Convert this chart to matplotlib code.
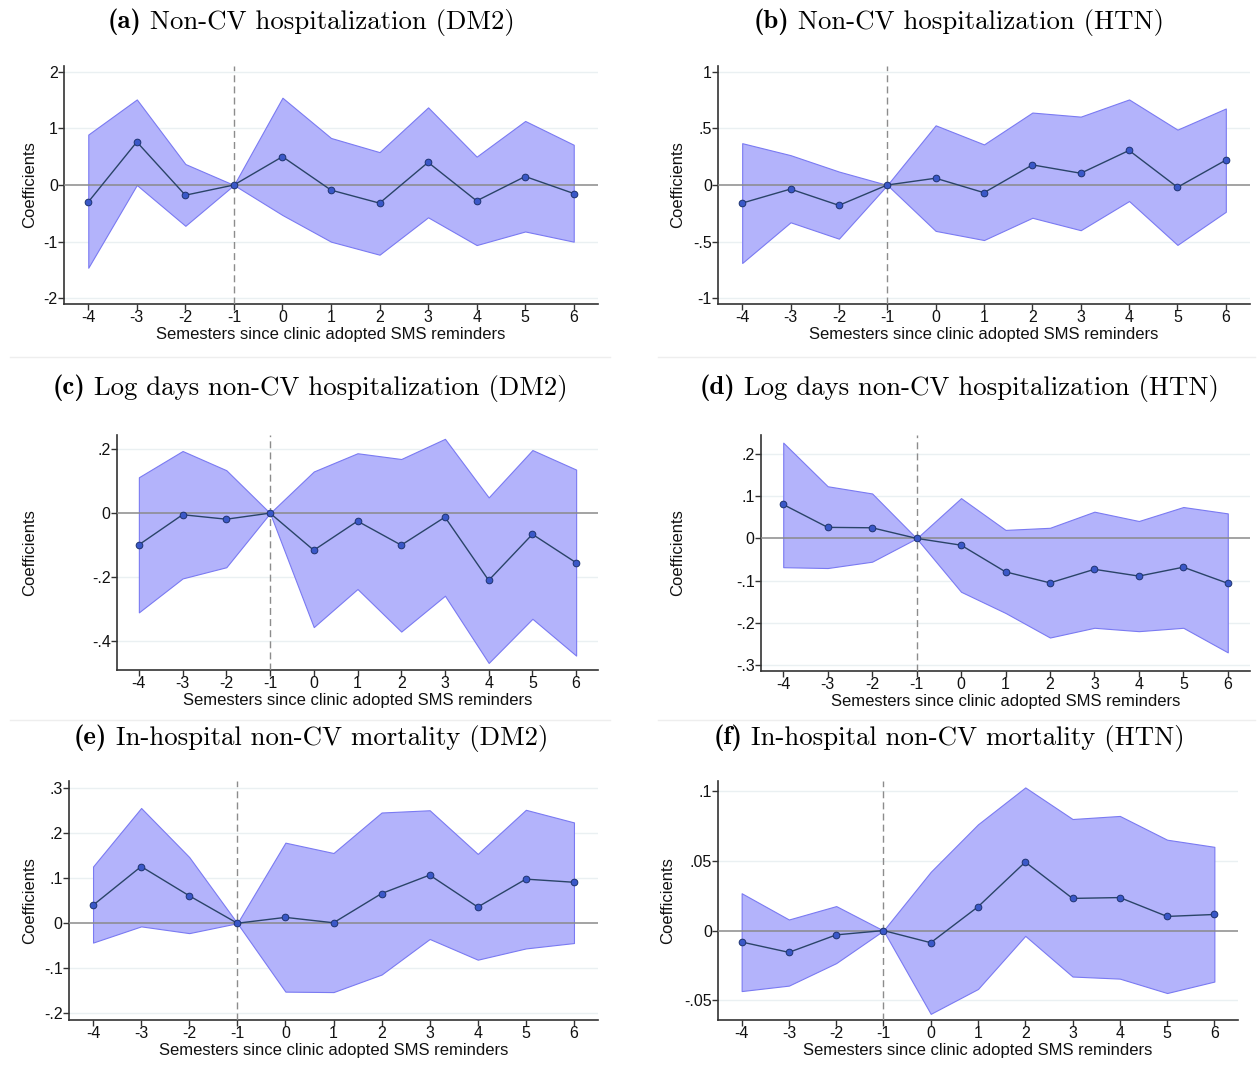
import numpy as np
import matplotlib
matplotlib.use('Agg')
import matplotlib.pyplot as plt
from matplotlib.lines import Line2D

plt.rcParams['font.family'] = ['Liberation Sans', 'DejaVu Sans']

# semesters relative to adoption
sem = [-4, -3, -2, -1, 0, 1, 2, 3, 4, 5, 6]

# (a) Non-CV hospitalization (DM2)
coef_a = [-0.30, 0.76, -0.18, 0, 0.50, -0.09, -0.32, 0.40, -0.28, 0.15, -0.15]
lo_a = [-1.46, 0.00, -0.72, 0, -0.53, -1.00, -1.23, -0.57, -1.06, -0.82, -1.00]
hi_a = [0.89, 1.51, 0.37, 0, 1.54, 0.83, 0.58, 1.37, 0.50, 1.13, 0.71]

# (b) Non-CV hospitalization (HTN)
coef_b = [-0.16, -0.036, -0.18, 0, 0.06, -0.068, 0.178, 0.104, 0.306, -0.02, 0.22]
lo_b = [-0.69, -0.33, -0.475, 0, -0.406, -0.487, -0.29, -0.40, -0.142, -0.53, -0.237]
hi_b = [0.37, 0.264, 0.119, 0, 0.528, 0.359, 0.641, 0.605, 0.757, 0.49, 0.677]

# (c) Log days non-CV hospitalization (DM2)
coef_c = [-0.099, -0.005, -0.019, 0, -0.116, -0.025, -0.10, -0.0125, -0.21, -0.066, -0.155]
lo_c = [-0.31, -0.204, -0.169, 0, -0.356, -0.237, -0.37, -0.258, -0.468, -0.33, -0.445]
hi_c = [0.112, 0.194, 0.134, 0, 0.13, 0.187, 0.169, 0.232, 0.049, 0.197, 0.136]

# (d) Log days non-CV hospitalization (HTN)
coef_d = [0.08, 0.026, 0.025, 0, -0.016, -0.079, -0.105, -0.073, -0.089, -0.068, -0.106]
lo_d = [-0.068, -0.07, -0.055, 0, -0.126, -0.176, -0.234, -0.211, -0.219, -0.211, -0.269]
hi_d = [0.226, 0.123, 0.106, 0, 0.095, 0.02, 0.025, 0.063, 0.041, 0.074, 0.059]

# (e) In-hospital non-CV mortality (DM2)
coef_e = [0.04, 0.126, 0.061, 0, 0.013, 0.001, 0.066, 0.107, 0.036, 0.098, 0.091]
lo_e = [-0.043, -0.007, -0.022, 0, -0.152, -0.153, -0.114, -0.035, -0.081, -0.056, -0.044]
hi_e = [0.126, 0.256, 0.147, 0, 0.179, 0.156, 0.246, 0.251, 0.154, 0.252, 0.224]

# (f) In-hospital non-CV mortality (HTN)
coef_f = [-0.0082, -0.0156, -0.0031, 0, -0.0087, 0.017, 0.049, 0.023, 0.0236, 0.0101, 0.0115]
lo_f = [-0.0433, -0.0394, -0.0233, 0, -0.0596, -0.0418, -0.0038, -0.0329, -0.0344, -0.0447, -0.0365]
hi_f = [0.0267, 0.0079, 0.0175, 0, 0.042, 0.076, 0.1024, 0.0798, 0.082, 0.065, 0.0599]

# y ticks (Stata style labels)
yt_a = [-2, -1, 0, 1, 2]
yl_a = ['-2', '-1', '0', '1', '2']
yt_b = [-1, -0.5, 0, 0.5, 1]
yl_b = ['-1', '-.5', '0', '.5', '1']
yt_c = [-0.4, -0.2, 0, 0.2]
yl_c = ['-.4', '-.2', '0', '.2']
yt_d = [-0.3, -0.2, -0.1, 0, 0.1, 0.2]
yl_d = ['-.3', '-.2', '-.1', '0', '.1', '.2']
yt_e = [-0.2, -0.1, 0, 0.1, 0.2, 0.3]
yl_e = ['-.2', '-.1', '0', '.1', '.2', '.3']
yt_f = [-0.05, 0, 0.05, 0.1]
yl_f = ['-.05', '0', '.05', '.1']

titles = ['Non-CV hospitalization (DM2)', 'Non-CV hospitalization (HTN)',
          'Log days non-CV hospitalization (DM2)', 'Log days non-CV hospitalization (HTN)',
          'In-hospital non-CV mortality (DM2)', 'In-hospital non-CV mortality (HTN)']
letters = ['(a)', '(b)', '(c)', '(d)', '(e)', '(f)']
xlabel = 'Semesters since clinic adopted SMS reminders'

W, H = 1257, 1067
fig = plt.figure(figsize=(W / 100, H / 100), dpi=100)

# layout in pixels: left, right, top, bottom, ylim, title centre, ylabel x
panels = [
    (coef_a, lo_a, hi_a, yt_a, yl_a, (64, 598, 66, 304), (-2.1, 2.1), (311, 22), 30),
    (coef_b, lo_b, hi_b, yt_b, yl_b, (718, 1250, 66, 304), (-1.053, 1.053), (959, 22), 678),
    (coef_c, lo_c, hi_c, yt_c, yl_c, (117, 598, 435, 670), (-0.49, 0.244), (310, 388), 30),
    (coef_d, lo_d, hi_d, yt_d, yl_d, (761, 1250, 435, 671), (-0.313, 0.244), (959, 388), 678),
    (coef_e, lo_e, hi_e, yt_e, yl_e, (69, 598, 781, 1020), (-0.215, 0.316), (311, 738), 30),
    (coef_f, lo_f, hi_f, yt_f, yl_f, (718, 1238, 781, 1020), (-0.064, 0.107), (949, 738), 668),
]

renderer = fig.canvas.get_renderer()

for i, (coef, lo, hi, yt, yl, box, ylim, tpos, ylx) in enumerate(panels):
    l, r, t, b = box
    ax = fig.add_axes([l / W, 1 - b / H, (r - l) / W, (b - t) / H])
    for y in yt:
        if y != 0:
            ax.axhline(y, color='#eaf0f2', lw=1, zorder=1)
    ax.fill_between(sem, lo, hi, facecolor='#b3b3fb', edgecolor='#7a7af2', lw=0.8, zorder=2)
    ax.axhline(0, color='#8a8a8a', lw=1.1, zorder=3)
    ax.axvline(-1, color='#8c8c8c', lw=1, ls=(0, (5, 3)), zorder=3)
    ax.plot(sem, coef, color='#2a4468', lw=1, marker='o', ms=4.8,
            mfc='#3a58c8', mec='#1e3370', mew=0.7, zorder=4)
    ax.set_xlim(-4.5, 6.5)
    ax.set_ylim(*ylim)
    ax.set_xticks(sem)
    ax.set_xticklabels([str(s) for s in sem])
    ax.set_yticks(yt)
    ax.set_yticklabels(yl)
    for s in ['top', 'right']:
        ax.spines[s].set_visible(False)
    for s in ['left', 'bottom']:
        ax.spines[s].set_color('#333333')
        ax.spines[s].set_linewidth(1.2)
    ax.tick_params(direction='out', length=4, width=1, color='#333333',
                   labelsize=11.5, labelcolor='#111111', pad=0.5)
    ax.set_xlabel(xlabel, fontsize=12, labelpad=1, color='#111111')
    ax.set_ylabel('Coefficients', fontsize=12, va='center', color='#111111')
    ax.yaxis.set_label_coords(ylx / W, 1 - (t + b) / 2 / H, transform=fig.transFigure)

    # title: bold letter + roman text, centred
    cx, cy = tpos
    tb = fig.text(0, 1 - cy / H, letters[i], fontfamily='cmb10', fontsize=19.3, va='center')
    tr = fig.text(0, 1 - cy / H, ' ' + titles[i], fontfamily='cmr10', fontsize=19.3, va='center')
    wb = tb.get_window_extent(renderer).width
    wr = tr.get_window_extent(renderer).width
    x0 = cx - (wb + wr) / 2
    tb.set_x(x0 / W)
    tr.set_x((x0 + wb) / W)

# faint separators between graph regions
for yy in [357, 720]:
    for x0, x1 in [(10, 610), (658, 1255)]:
        fig.add_artist(Line2D([x0 / W, x1 / W], [1 - yy / H, 1 - yy / H],
                              color='#eeeeee', lw=1))

fig.savefig('out.png', dpi=100)
